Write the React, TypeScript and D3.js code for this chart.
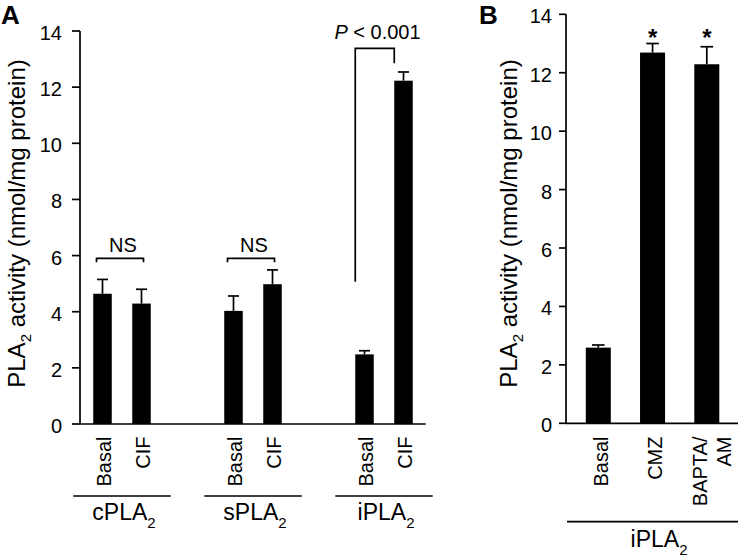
import React from "react";
import * as d3 from "d3";

// ---- Data ----
const groupsA = ["cPLA", "sPLA", "iPLA"]; // each followed by subscript "2"
const conditionsA = ["Basal", "CIF"];
const meansA = [
  [4.64, 4.29],
  [4.03, 4.98],
  [2.48, 12.23],
];
const errorsA = [
  [0.51, 0.51],
  [0.53, 0.51],
  [0.13, 0.31],
];

const conditionsB = ["Basal", "CMZ", "BAPTA/AM"];
const meansB = [2.59, 12.69, 12.29];
const errorsB = [0.09, 0.31, 0.6];
const significantB = [false, true, true];

const yTicks = [0, 2, 4, 6, 8, 10, 12, 14];

const FONT = "'Liberation Sans', Arial, Helvetica, sans-serif";

export default function App() {
  // Panel A scales
  const yA = d3.scaleLinear().domain([0, 14]).range([424, 31]);
  const xAGroup = d3.scalePoint<string>().domain(groupsA).range([122, 384]);
  const xAInner = d3.scalePoint<string>().domain(conditionsA).range([-19.5, 19.5]);
  const barWA = 18.5;
  const capA = 11;
  const axisAX = 80;

  // Panel B scales
  const yB = d3.scaleLinear().domain([0, 14]).range([423.3, 14.3]);
  const xB = d3.scalePoint<string>().domain(conditionsB).range([598.3, 706.8]);
  const barWB = 25;
  const capB = 12.6;
  const axisBX = 566;

  const stroke = "#000";
  const sw = 1.7;

  const xa = (g: string, c: string) => (xAGroup(g) as number) + (xAInner(c) as number);

  return (
    <svg
      width={738}
      height={558}
      style={{ position: "absolute", left: 0, top: 0, background: "#fff" }}
      fontFamily={FONT}
    >
      <rect x={0} y={0} width={738} height={558} fill="#fff" />

      {/* Panel labels */}
      <text x={1} y={24} fontSize={26} fontWeight="bold">A</text>
      <text x={479} y={24} fontSize={26} fontWeight="bold">B</text>

      {/* ===== Panel A ===== */}
      <g>
        {/* y axis */}
        <line x1={axisAX} x2={axisAX} y1={yA(14)} y2={yA(0)} stroke={stroke} strokeWidth={sw} />
        {yTicks.map((t) => (
          <g key={t}>
            <line x1={axisAX - 8} x2={axisAX} y1={yA(t)} y2={yA(t)} stroke={stroke} strokeWidth={sw} />
            <text x={62} y={yA(t)} dy={9} fontSize={20} textAnchor="end">{t}</text>
          </g>
        ))}
        {/* x axis */}
        <line x1={axisAX} x2={425.7} y1={yA(0)} y2={yA(0)} stroke={stroke} strokeWidth={sw} />

        {/* y title */}
        <text transform={`translate(24.5,223.5) rotate(-90)`} fontSize={24} textAnchor="middle">
          PLA<tspan fontSize={15} dy={6}>2</tspan>
          <tspan dy={-6}> activity (nmol/mg protein)</tspan>
        </text>

        {/* bars */}
        {groupsA.map((g, gi) =>
          conditionsA.map((c, ci) => {
            const cx = xa(g, c);
            const v = meansA[gi][ci];
            const e = errorsA[gi][ci];
            return (
              <g key={g + c}>
                <rect x={cx - barWA / 2} y={yA(v)} width={barWA} height={yA(0) - yA(v)} fill="#000" />
                <line x1={cx} x2={cx} y1={yA(v)} y2={yA(v + e)} stroke={stroke} strokeWidth={sw} />
                <line x1={cx - capA / 2} x2={cx + capA / 2} y1={yA(v + e)} y2={yA(v + e)} stroke={stroke} strokeWidth={sw} />
                <text transform={`translate(${cx},436.5) rotate(-90)`} dy={8.5} fontSize={20} textAnchor="end">{c}</text>
              </g>
            );
          })
        )}

        {/* group underlines and labels */}
        {groupsA.map((g) => {
          const gc = xAGroup(g) as number;
          return (
            <g key={g}>
              <line x1={gc - 48.7} x2={gc + 48.7} y1={496} y2={496} stroke={stroke} strokeWidth={sw} />
              <text x={gc + 2} y={520} fontSize={23} textAnchor="middle">
                {g}<tspan fontSize={15} dy={8}>2</tspan>
              </text>
            </g>
          );
        })}

        {/* NS brackets */}
        {groupsA.slice(0, 2).map((g) => {
          const x1 = xa(g, "Basal") - 6;
          const x2 = xa(g, "CIF") + 2;
          const yb = yA(5.9);
          const yt = yA(5.76);
          return (
            <g key={"ns" + g}>
              <path d={`M${x1},${yt}V${yb}H${x2}V${yt}`} fill="none" stroke={stroke} strokeWidth={sw} />
              <text x={(x1 + x2) / 2 + 3} y={yA(6.13)} fontSize={20} textAnchor="middle">NS</text>
            </g>
          );
        })}

        {/* P bracket */}
        {(() => {
          const x1 = xa("iPLA", "Basal") - barWA / 2;
          const x2 = xa("iPLA", "CIF") - barWA / 2;
          return (
            <g>
              <path
                d={`M${x1},${yA(5.07)}V${yA(13.38)}H${x2}V${yA(12.85)}`}
                fill="none"
                stroke={stroke}
                strokeWidth={sw}
              />
              <text x={377.5} y={39} fontSize={20} textAnchor="middle">
                <tspan fontStyle="italic">P</tspan> &lt; 0.001
              </text>
            </g>
          );
        })()}
      </g>

      {/* ===== Panel B ===== */}
      <g>
        <line x1={axisBX} x2={axisBX} y1={yB(14)} y2={yB(0)} stroke={stroke} strokeWidth={sw} />
        {yTicks.map((t) => (
          <g key={t}>
            <line x1={axisBX - 7} x2={axisBX} y1={yB(t)} y2={yB(t)} stroke={stroke} strokeWidth={sw} />
            <text x={552} y={yB(t)} dy={9} fontSize={20} textAnchor="end">{t}</text>
          </g>
        ))}
        <line x1={axisBX} x2={738} y1={yB(0)} y2={yB(0)} stroke={stroke} strokeWidth={sw} />

        <text transform={`translate(516.5,223.5) rotate(-90)`} fontSize={24} textAnchor="middle">
          PLA<tspan fontSize={15} dy={6}>2</tspan>
          <tspan dy={-6}> activity (nmol/mg protein)</tspan>
        </text>

        {conditionsB.map((c, i) => {
          const cx = xB(c) as number;
          const v = meansB[i];
          const e = errorsB[i];
          const lines = c === "BAPTA/AM" ? ["BAPTA/", "AM"] : [c];
          return (
            <g key={c}>
              <rect x={cx - barWB / 2} y={yB(v)} width={barWB} height={yB(0) - yB(v)} fill="#000" />
              <line x1={cx} x2={cx} y1={yB(v)} y2={yB(v + e)} stroke={stroke} strokeWidth={sw} />
              <line x1={cx - capB / 2} x2={cx + capB / 2} y1={yB(v + e)} y2={yB(v + e)} stroke={stroke} strokeWidth={sw} />
              {significantB[i] && (
                <text x={cx} y={yB(13.5) + 17.5} fontSize={24} fontWeight="bold" textAnchor="middle">*</text>
              )}
              {lines.length === 1 ? (
                <text transform={`translate(${cx},436.5) rotate(-90)`} dy={9.5} fontSize={20} textAnchor="end">{c}</text>
              ) : (
                lines.map((l, li) => (
                  <text key={l} transform={`translate(${cx},436.5) rotate(-90)`} dy={li * 24.5} fontSize={20} textAnchor="end">{l}</text>
                ))
              )}
            </g>
          );
        })}

        <line x1={567} x2={738} y1={521.7} y2={521.7} stroke={stroke} strokeWidth={sw} />
        <text x={659} y={546.7} fontSize={23} textAnchor="middle">
          iPLA<tspan fontSize={15} dy={8}>2</tspan>
        </text>
      </g>
    </svg>
  );
}
